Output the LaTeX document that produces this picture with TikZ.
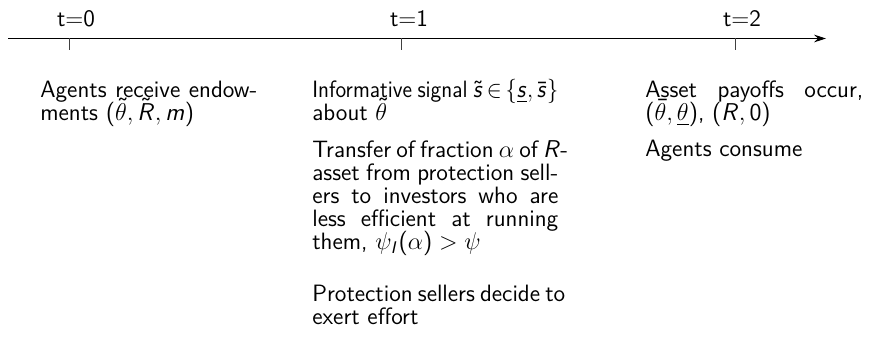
\documentclass[tikz,border=0pt]{standalone}
\usepackage{amsmath}
\usepackage{graphicx}
\usetikzlibrary{arrows.meta}
% sans-serif math letters and digits, serif Greek
\DeclareMathAlphabet{\msf}{OT1}{cmss}{m}{sl}
\SetSymbolFont{operators}{normal}{OT1}{cmss}{m}{n}
% column widths and a justified line of given width
\newlength\colA \setlength\colA{128.5pt}
\newlength\colB \setlength\colB{145.6pt}
\newlength\colC \setlength\colC{129.1pt}
\newcommand\jline[2]{\makebox[#1][s]{#2}}
\begin{document}
\begin{tikzpicture}[x=0.592pt,y=-0.592pt,
  ln/.style={anchor=base west,inner sep=0pt,font=\sffamily\fontsize{14}{13.6}\selectfont},
  tlabel/.style={anchor=base,inner sep=0pt,font=\sffamily\fontsize{14}{13.6}\selectfont},
  axis/.style={line width=0.6pt,-{Stealth[length=7pt,width=4.5pt]}},
  tick/.style={line width=0.5pt,black!75}]
\useasboundingbox (0,0) rectangle (871,355);

% time axis
\coordinate (a0) at (8,38.5);
\coordinate (a1) at (826,38.5);
\draw[axis] (a0) -- (a1);

% ticks
\coordinate (k0) at (69,38.5);  \coordinate (k0e) at (69,50);
\coordinate (k1) at (401,38.5); \coordinate (k1e) at (401,50);
\coordinate (k2) at (735,38.5); \coordinate (k2e) at (735,50);
\draw[tick] (k0) -- (k0e);
\draw[tick] (k1) -- (k1e);
\draw[tick] (k2) -- (k2e);

% dates
\node[tlabel] (t0) at (76,27)  {t=0};
\node[tlabel] (t1) at (409,27) {t=1};
\node[tlabel] (t2) at (742,27) {t=2};

% events at t=0
\node[ln] (e0a) at (40,98)  {\jline{\colA}{Agents receive endow-}};
\node[ln] (e0b) at (40,121) {ments $(\tilde{\theta},\tilde{\msf{R}},\msf{m})$};

% events at t=1: signal
\node[ln] (e1a) at (312,98) {\resizebox{\colB}{\height}{Informative\hspace{0.25em}signal\hspace{0.25em}$\tilde{\msf{s}}\mskip3mu{\in}\mskip3mu\{\underline{\msf{s}},\bar{\msf{s}}\}$}};
\node[ln] (e1b) at (312,121) {about $\tilde{\theta}$};

% events at t=1: transfer of assets
\node[ln] (e1c) at (312,158) {\jline{\colB}{Transfer of fraction $\alpha$ of $\msf{R}$-}};
\node[ln] (e1d) at (312,181) {\jline{\colB}{asset from protection sell-}};
\node[ln] (e1e) at (312,204) {\jline{\colB}{ers to investors who are}};
\node[ln] (e1f) at (312,227) {\jline{\colB}{less efficient at running}};
\node[ln] (e1g) at (312,250) {them, $\psi_{\msf{I}}(\alpha)>\psi$};

% events at t=1: effort
\node[ln] (e1h) at (312,302) {\jline{\colB}{Protection sellers decide to}};
\node[ln] (e1i) at (312,325) {exert effort};

% events at t=2
\node[ln] (e2a) at (645,98)  {\jline{\colC}{Asset payoffs occur,}};
\node[ln] (e2b) at (645,121) {$(\bar{\theta},\underline{\theta})$, $(\msf{R},0)$};
\node[ln] (e2c) at (645,157) {Agents consume};
\end{tikzpicture}
\end{document}
